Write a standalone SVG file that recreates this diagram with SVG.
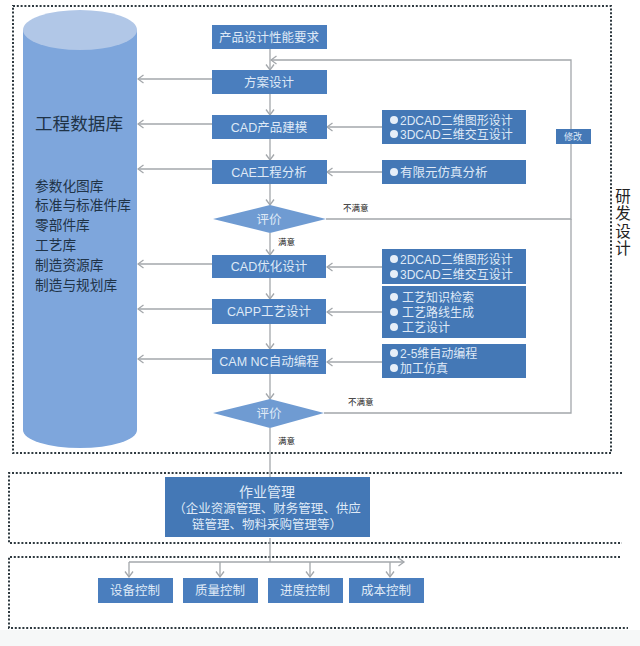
<svg xmlns="http://www.w3.org/2000/svg" width="640" height="646" viewBox="0 0 640 646">
<style>
text{font-family:"Liberation Sans","Noto Sans CJK SC",sans-serif}
.b{fill:#4a7ebe}
.r{fill:#4478b6}
.t{fill:#dfe9f6;font-size:12.5px;text-anchor:middle}
.l{fill:#dfe9f6;font-size:12px}
.u{fill:#e6eef8}
.n{fill:#1f3347;font-size:13.7px}
.s{fill:#222;font-size:8.5px}
.h{font-size:14px}
.dot{fill:none;stroke:#2f3a40;stroke-width:2;stroke-dasharray:2 1.8}
.c{fill:none;stroke:#a3a7ab;stroke-width:1.3}
.a{fill:none;stroke:#a3a7ab;stroke-width:1.3;marker-end:url(#arr)}
</style>
<defs>
<marker id="arr" markerWidth="9" markerHeight="10" refX="7.5" refY="5" orient="auto" markerUnits="userSpaceOnUse">
<path d="M2 1L7.5 5L2 9" fill="none" stroke="#a3a7ab" stroke-width="1.3"/>
</marker>
</defs>
<rect width="640" height="646" fill="#fff"/>
<rect y="630" width="640" height="16" fill="#f6f8f8"/>
<g id="frames">
<rect class="dot" x="13" y="6" width="598" height="447"/>
<path class="dot" d="M622 473H9V543H622"/>
<path class="dot" d="M620 557H9V628H628"/>
</g>
<g id="database">
<path d="M23 30V430A57 18 0 0 0 137 430V30Z" fill="#7ea6dc"/>
<ellipse cx="80" cy="30" rx="57" ry="20" fill="#b1c7e7"/>
<text x="35" y="130" fill="#1f3347" font-size="17.6">工程数据库</text>
<text class="n" x="35" y="191">参数化图库</text>
<text class="n" x="35" y="210">标准与标准件库</text>
<text class="n" x="35" y="230">零部件库</text>
<text class="n" x="35" y="250">工艺库</text>
<text class="n" x="35" y="270">制造资源库</text>
<text class="n" x="35" y="290">制造与规划库</text>
</g>
<g id="connectors">
<path class="a" d="M270 49V70"/>
<path class="a" d="M270 94V115"/>
<path class="a" d="M270 139V160"/>
<path class="a" d="M270 184V205"/>
<path class="a" d="M270 233V255"/>
<path class="a" d="M270 278V299"/>
<path class="a" d="M270 324V349"/>
<path class="a" d="M270 374V399"/>
<path class="c" d="M270 428V478"/>
<path class="a" d="M212 79H138"/>
<path class="a" d="M212 124H138"/>
<path class="a" d="M212 169H138"/>
<path class="a" d="M212 264H138"/>
<path class="a" d="M212 309H138"/>
<path class="a" d="M212 359H138"/>
<path class="a" d="M382 127H327"/>
<path class="a" d="M382 172H327"/>
<path class="a" d="M382 267H327"/>
<path class="a" d="M382 312H327"/>
<path class="a" d="M382 362H327"/>
<path class="a" d="M326 219H571V60H271"/>
<path class="c" d="M324 413H571V219"/>
<path class="c" d="M270 538V562"/>
<path class="a" d="M129 562H404"/>
<path class="a" d="M129 562V577"/>
<path class="a" d="M220 562V577"/>
<path class="a" d="M310 562V577"/>
<path class="a" d="M390 562V577"/>
</g>
<g id="n1"><rect class="b" x="212" y="25" width="115" height="24"/><text class="t" x="269" y="42">产品设计性能要求</text></g>
<g id="n2"><rect class="b" x="212" y="70" width="115" height="24"/><text class="t" x="269" y="87">方案设计</text></g>
<g id="n3"><rect class="b" x="212" y="115" width="115" height="24"/><text class="t" x="269" y="132">CAD产品建模</text></g>
<g id="n4"><rect class="b" x="212" y="160" width="115" height="24"/><text class="t" x="269" y="177">CAE工程分析</text></g>
<g id="d1"><path d="M213 219L270 205L326 219L270 233Z" fill="#6f9bd2"/><text class="t" x="269" y="224">评价</text></g>
<g id="n5"><rect class="b" x="212" y="255" width="114" height="23"/><text class="t" x="269" y="271">CAD优化设计</text></g>
<g id="n6"><rect class="b" x="212" y="299" width="114" height="25"/><text class="t" x="269" y="316">CAPP工艺设计</text></g>
<g id="n7"><rect class="b" x="212" y="349" width="114" height="25"/><text class="t" x="269" y="366">CAM NC自动编程</text></g>
<g id="d2"><path d="M213 413L270 399L324 413L270 428Z" fill="#6f9bd2"/><text class="t" x="269" y="418">评价</text></g>
<g id="r1"><rect class="r" x="382" y="110" width="144" height="34"/>
<circle class="u" cx="394" cy="120" r="4"/><text class="l" x="400" y="125">2DCAD二维图形设计</text>
<circle class="u" cx="394" cy="134" r="4"/><text class="l" x="400" y="139">3DCAD三维交互设计</text></g>
<g id="r2"><rect class="r" x="382" y="160" width="144" height="24"/>
<circle class="u" cx="394" cy="172" r="4"/><text class="l" x="400" y="177" style="font-size:12.5px">有限元仿真分析</text></g>
<g id="r3"><rect class="r" x="382" y="249" width="144" height="35"/>
<circle class="u" cx="394" cy="259" r="4"/><text class="l" x="400" y="264">2DCAD二维图形设计</text>
<circle class="u" cx="394" cy="274" r="4"/><text class="l" x="400" y="279">3DCAD三维交互设计</text></g>
<g id="r4"><rect class="r" x="382" y="286" width="144" height="52"/>
<circle class="u" cx="394" cy="297" r="4"/><text class="l" x="402" y="302">工艺知识检索</text>
<circle class="u" cx="394" cy="312" r="4"/><text class="l" x="402" y="317">工艺路线生成</text>
<circle class="u" cx="394" cy="327" r="4"/><text class="l" x="402" y="332">工艺设计</text></g>
<g id="r5"><rect class="r" x="382" y="344" width="144" height="34"/>
<circle class="u" cx="394" cy="353" r="4"/><text class="l" x="400" y="358">2-5维自动编程</text>
<circle class="u" cx="394" cy="368" r="4"/><text class="l" x="400" y="373">加工仿真</text></g>
<g id="fix"><rect class="r" x="556" y="129" width="35" height="15"/><text x="573" y="140" fill="#dfe9f6" font-size="9" text-anchor="middle">修改</text></g>
<g id="labels">
<text class="s" x="343" y="211">不满意</text>
<text class="s" x="278" y="245">满意</text>
<text class="s" x="348" y="405">不满意</text>
<text class="s" x="278" y="444">满意</text>
<text x="621.5" y="188" fill="#222" font-size="15.5" letter-spacing="2" style="writing-mode:vertical-rl">研发设计</text>
</g>
<g id="job"><rect class="r" x="165" y="477" width="205" height="60"/>
<text class="t h" x="267" y="497">作业管理</text>
<text class="t" x="267" y="513">（企业资源管理、财务管理、供应</text>
<text class="t" x="267" y="529">链管理、物料采购管理等）</text></g>
<g id="c1"><rect class="b" x="98" y="578" width="75" height="25"/><text class="t" x="135" y="595">设备控制</text></g>
<g id="c2"><rect class="b" x="183" y="578" width="75" height="25"/><text class="t" x="220" y="595">质量控制</text></g>
<g id="c3"><rect class="b" x="268" y="578" width="75" height="25"/><text class="t" x="305" y="595">进度控制</text></g>
<g id="c4"><rect class="b" x="349" y="578" width="75" height="25"/><text class="t" x="386" y="595">成本控制</text></g>
</svg>
